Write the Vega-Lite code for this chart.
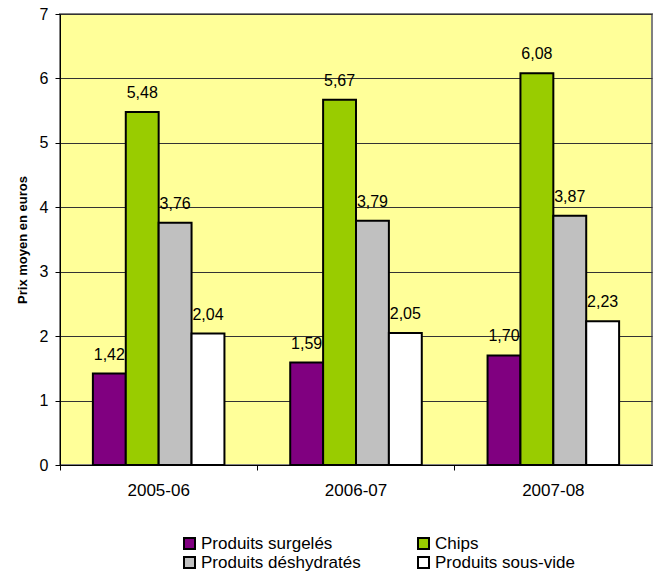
{
  "$schema": "https://vega.github.io/schema/vega-lite/v6.json",
  "autosize": "none",
  "width": 592,
  "height": 451,
  "padding": {"left": 60, "top": 14, "right": 4, "bottom": 107},
  "config": {
    "locale": {"number": {"decimal": ",", "thousands": " ", "grouping": [3], "currency": ["", " €"]}},
    "font": "Liberation Sans",
    "view": {"fill": "#FFFF99", "stroke": "#808080", "strokeWidth": 2}
  },
  "data": {
    "values": [
      {"periode": "2005-06", "produit": "Produits surgelés", "prix": 1.42},
      {"periode": "2005-06", "produit": "Chips", "prix": 5.48},
      {"periode": "2005-06", "produit": "Produits déshydratés", "prix": 3.76},
      {"periode": "2005-06", "produit": "Produits sous-vide", "prix": 2.04},
      {"periode": "2006-07", "produit": "Produits surgelés", "prix": 1.59},
      {"periode": "2006-07", "produit": "Chips", "prix": 5.67},
      {"periode": "2006-07", "produit": "Produits déshydratés", "prix": 3.79},
      {"periode": "2006-07", "produit": "Produits sous-vide", "prix": 2.05},
      {"periode": "2007-08", "produit": "Produits surgelés", "prix": 1.70},
      {"periode": "2007-08", "produit": "Chips", "prix": 6.08},
      {"periode": "2007-08", "produit": "Produits déshydratés", "prix": 3.87},
      {"periode": "2007-08", "produit": "Produits sous-vide", "prix": 2.23}
    ]
  },
  "encoding": {
    "x": {
      "field": "periode", "type": "nominal",
      "scale": {"paddingInner": 0, "paddingOuter": 0},
      "axis": {
        "title": null, "labelAngle": 0, "labelFontSize": 17, "labelColor": "#000000",
        "labelPadding": 12, "bandPosition": 0, "tickColor": "#000000", "tickSize": 5,
        "domainColor": "#000000", "domainWidth": 1
      }
    },
    "xOffset": {
      "field": "produit", "type": "nominal",
      "sort": ["Produits surgelés", "Chips", "Produits déshydratés", "Produits sous-vide"],
      "scale": {"paddingInner": 0, "paddingOuter": 1}
    },
    "y": {
      "field": "prix", "type": "quantitative",
      "scale": {"domain": [0, 7], "nice": false},
      "axis": {
        "title": "Prix moyen en euros", "titleFontSize": 13, "titleFontWeight": "bold",
        "titleColor": "#000000", "titlePadding": 10,
        "values": [0, 1, 2, 3, 4, 5, 6, 7], "format": "d",
        "labelFontSize": 16, "labelColor": "#000000", "labelPadding": 7,
        "tickColor": "#000000", "tickSize": 5,
        "domainColor": "#000000", "domainWidth": 1,
        "grid": true, "gridColor": "#333333", "gridWidth": 1
      }
    }
  },
  "layer": [
    {
      "mark": {"type": "bar", "stroke": "#000000", "strokeWidth": 2},
      "encoding": {
        "color": {
          "field": "produit", "type": "nominal",
          "sort": ["Produits surgelés", "Chips", "Produits déshydratés", "Produits sous-vide"],
          "scale": {
            "domain": ["Produits surgelés", "Chips", "Produits déshydratés", "Produits sous-vide"],
            "range": ["#800080", "#99CC00", "#C0C0C0", "#FFFFFF"]
          },
          "legend": {
            "title": null, "orient": "none", "legendX": 121, "legendY": 521,
            "direction": "horizontal", "columns": 2, "columnPadding": 53, "rowPadding": 0,
            "symbolType": "square", "symbolSize": 121, "symbolStrokeColor": "#000000",
            "symbolStrokeWidth": 2, "symbolOpacity": 1,
            "labelFontSize": 17, "labelColor": "#000000", "labelOffset": 3, "labelLimit": 300
          }
        }
      }
    },
    {
      "mark": {"type": "text", "baseline": "bottom", "dy": -11, "fontSize": 16, "color": "#000000"},
      "encoding": {
        "text": {"field": "prix", "type": "quantitative", "format": ".2f"}
      }
    }
  ]
}
